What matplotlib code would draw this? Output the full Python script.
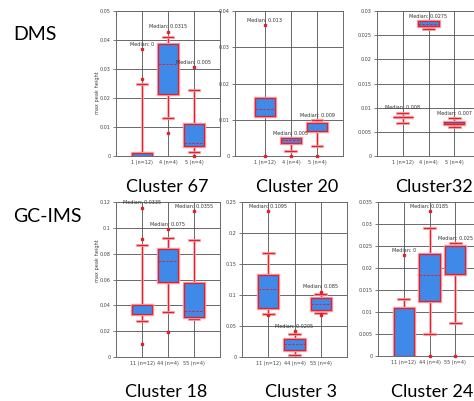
import matplotlib
matplotlib.use("Agg")
import matplotlib.pyplot as plt
import matplotlib.patheffects as pe
from matplotlib.ticker import FuncFormatter, MultipleLocator

# ---------------- data ----------------
row_labels = ["DMS", "GC-IMS"]
cluster_titles = ["Cluster 67", "Cluster 20", "Cluster32", "Cluster 18", "Cluster 3", "Cluster 24"]
top_ticklabels = ["1 (n=12)", "4 (n=4)", "5 (n=4)"]
bottom_ticklabels = ["11 (n=12)", "44 (n=4)", "55 (n=4)"]

# per panel: q1, median, q3, whisker low, whisker high, outliers, median label
c67_q1 = [0.0, 0.0214, 0.0035]
c67_med = [0.0, 0.0316, 0.0046]
c67_q3 = [0.0010, 0.0385, 0.0112]
c67_wlo = [0.0, 0.0132, 0.0014]
c67_whi = [0.0247, 0.0411, 0.0229]
c67_out = [[0.0267, 0.0369], [0.0079, 0.0429], [0.0, 0.0308]]
c67_lab = ["Median: 0", "Median: 0.0315", "Median: 0.005"]

c20_q1 = [0.0111, 0.0037, 0.0069]
c20_med = [0.0131, 0.0043, 0.0090]
c20_q3 = [0.0159, 0.0050, 0.0092]
c20_wlo = [0.0111, 0.0015, 0.0028]
c20_whi = [0.0159, 0.0050, 0.0100]
c20_out = [[0.0, 0.0361], [0.0], [0.0]]
c20_lab = ["Median: 0.013", "Median: 0.005", "Median: 0.009"]

c32_q1 = [0.0081, 0.0269, 0.0067]
c32_med = [0.0081, 0.0274, 0.0070]
c32_q3 = [0.0081, 0.0279, 0.0071]
c32_wlo = [0.0069, 0.0262, 0.0060]
c32_whi = [0.0090, 0.0279, 0.0079]
c32_out = [[], [], []]
c32_lab = ["Median: 0.008", "Median: 0.0275", "Median: 0.007"]

c18_q1 = [0.0335, 0.0583, 0.0312]
c18_med = [0.0335, 0.0746, 0.0354]
c18_q3 = [0.0405, 0.0836, 0.0570]
c18_wlo = [0.0281, 0.0346, 0.0294]
c18_whi = [0.0867, 0.0924, 0.0908]
c18_out = [[0.0103, 0.0911, 0.1156], [0.0194, 0.0988], [0.1128]]
c18_lab = ["Median: 0.0335", "Median: 0.075", "Median: 0.0355"]

c3_q1 = [0.0794, 0.0108, 0.0756]
c3_med = [0.1090, 0.0211, 0.0853]
c3_q3 = [0.1323, 0.0297, 0.0945]
c3_wlo = [0.0697, 0.0038, 0.0713]
c3_whi = [0.1674, 0.0378, 0.1010]
c3_out = [[0.0675, 0.2349], [0.0416], [0.0675, 0.1050]]
c3_lab = ["Median: 0.1095", "Median: 0.0205", "Median: 0.085"]

c24_q1 = [0.0, 0.0126, 0.0187]
c24_med = [0.0, 0.0184, 0.0250]
c24_q3 = [0.0110, 0.0231, 0.0250]
c24_wlo = [0.0, 0.0051, 0.0076]
c24_whi = [0.0129, 0.0290, 0.0256]
c24_out = [[0.0229], [0.0, 0.0329], [0.0]]
c24_lab = ["Median: 0", "Median: 0.0185", "Median: 0.025"]

ylims = [0.05, 0.04, 0.03, 0.12, 0.25, 0.035]
ysteps = [0.01, 0.01, 0.005, 0.02, 0.05, 0.005]

panels = [
    (c67_q1, c67_med, c67_q3, c67_wlo, c67_whi, c67_out, c67_lab),
    (c20_q1, c20_med, c20_q3, c20_wlo, c20_whi, c20_out, c20_lab),
    (c32_q1, c32_med, c32_q3, c32_wlo, c32_whi, c32_out, c32_lab),
    (c18_q1, c18_med, c18_q3, c18_wlo, c18_whi, c18_out, c18_lab),
    (c3_q1, c3_med, c3_q3, c3_wlo, c3_whi, c3_out, c3_lab),
    (c24_q1, c24_med, c24_q3, c24_wlo, c24_whi, c24_out, c24_lab),
]

# ---------------- layout (pixels) ----------------
W, H = 474, 401
# left, right, top, bottom, xmin
boxes_px = [
    (116, 220, 11, 156, 0.0),
    (235, 343, 11, 156, -0.15),
    (377, 480, 11, 156, 0.0),
    (116, 220, 202, 357, 0.0),
    (242, 347, 202, 357, 0.0),
    (378, 481, 202, 356, 0.0),
]
comma_panels = [0, 1]

fig = plt.figure(figsize=(W / 100, H / 100), dpi=100)
fig.patch.set_facecolor("white")

RED = "#e3202b"
HALO = "#f7a3a6"
BLUE = "#3f8ae8"
GRID = "#505050"

halo_box = [pe.Stroke(linewidth=2.4, foreground=HALO), pe.Normal()]
halo_line = [pe.Stroke(linewidth=2.2, foreground=HALO, alpha=0.8), pe.Normal()]

for i, (data, pos) in enumerate(zip(panels, boxes_px)):
    q1, med, q3, wlo, whi, outs, labs = data
    l, r, t, b, xmin = pos
    ax = fig.add_axes([l / W, 1 - b / H, (r - l) / W, (b - t) / H])
    ax.set_xlim(xmin, 4)
    ax.set_ylim(0, ylims[i])
    stats = []
    for k in range(3):
        stats.append(dict(q1=q1[k], med=med[k], q3=q3[k], whislo=wlo[k],
                          whishi=whi[k], fliers=outs[k]))
    art = ax.bxp(stats, positions=[1, 2, 3], widths=0.78, capwidths=0.42,
                 patch_artist=True, showfliers=True, manage_ticks=False,
                 boxprops=dict(facecolor=BLUE, edgecolor=RED, linewidth=0.9),
                 whiskerprops=dict(color=RED, linewidth=0.7),
                 capprops=dict(color=RED, linewidth=0.9),
                 medianprops=dict(color=RED, linewidth=0.7, linestyle=(0, (2.5, 1.5))),
                 flierprops=dict(marker="s", markersize=1.6, markerfacecolor=RED,
                                 markeredgecolor=RED, linestyle="none"))
    for p in art["boxes"]:
        p.set_path_effects(halo_box)
        p.set_zorder(3)
    for ln in art["whiskers"] + art["caps"]:
        ln.set_path_effects(halo_line)
        ln.set_zorder(2.5)
    for ln in art["medians"]:
        ln.set_zorder(4)
    for ln in art["fliers"]:
        ln.set_zorder(5)
        ln.set_clip_on(False)

    # median labels
    for k in range(3):
        top = max(list(outs[k]) + [whi[k], q3[k]])
        ax.text(k + 1, top + 0.032 * ylims[i], labs[k], ha="center", va="center",
                fontsize=3.5, color="#333333", zorder=6)

    ax.yaxis.set_major_locator(MultipleLocator(ysteps[i]))
    use_comma = i in comma_panels
    ax.yaxis.set_major_formatter(FuncFormatter(
        lambda v, p, c=use_comma: ("{:g}".format(round(v, 4))).replace(".", "," if c else ".")))
    ax.set_xticks([1, 2, 3])
    ax.set_xticklabels(top_ticklabels if i < 3 else bottom_ticklabels)
    ax.tick_params(axis="both", labelsize=3.5, colors="#444444", length=2.5, width=0.5, pad=1.5)
    ax.tick_params(axis="x", length=0, pad=3)
    ax.grid(True, color=GRID, linewidth=0.6, zorder=0)
    ax.set_axisbelow(True)
    for s in ax.spines.values():
        s.set_color("#6a6a6a")
        s.set_linewidth(0.7)

# y-axis labels
fig.text(97 / W, 1 - 93 / H, "max peak height", rotation=90, ha="center", va="center",
         fontsize=3.6, color="#444444")
fig.text(97 / W, 1 - 261 / H, "max peak height", rotation=90, ha="center", va="center",
         fontsize=3.6, color="#444444")

# row labels
fig.text(13 / W, 1 - 34 / H, row_labels[0], ha="left", va="center", fontsize=14,
         family="Lato", color="black")
fig.text(13 / W, 1 - 216 / H, row_labels[1], ha="left", va="center", fontsize=14,
         family="Lato", color="black")

# cluster titles
title_pos = [(167, 187, "center"), (297, 187, "center"), (473, 187, "right"),
             (166, 392, "center"), (301, 392, "center"), (473, 392, "right")]
for txt, (x, y, ha) in zip(cluster_titles, title_pos):
    fig.text(x / W, 1 - y / H, txt, ha=ha, va="center", fontsize=13, family="Lato",
             color="black")

fig.savefig("out.png", dpi=100, facecolor="white")
